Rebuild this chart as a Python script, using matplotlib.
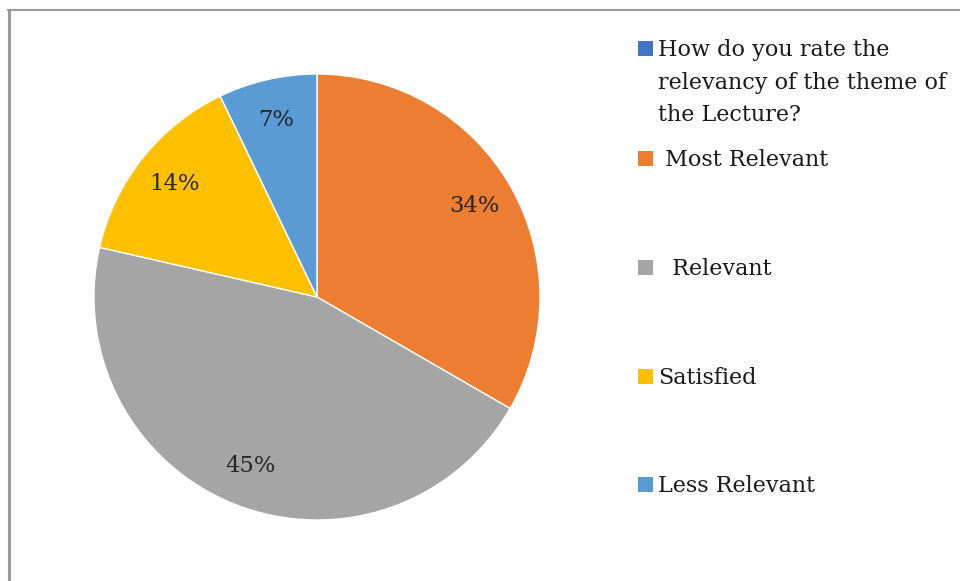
import matplotlib
matplotlib.use("Agg")
import matplotlib.pyplot as plt
from matplotlib.patches import Rectangle
from matplotlib.lines import Line2D

categories = ["How do you rate the\nrelevancy of the theme of\nthe Lecture?",
              " Most Relevant", "  Relevant", "Satisfied", "Less Relevant"]
# slice sizes (respondent counts)
values = [0, 14, 19, 6, 3]
# percentage labels as printed on the chart
pct_labels = ["", "34%", "45%", "14%", "7%"]
colors = ["#4472C4", "#ED7D31", "#A5A5A5", "#FFC000", "#5B9BD5"]

plt.rcParams['font.family'] = ['DejaVu Serif']

W, H = 960, 581
fig = plt.figure(figsize=(W / 100, H / 100), dpi=100)

# pie axes: centre (317,297), radius ~223
cx, cy, r = 317, 297, 223
ax = fig.add_axes([(cx - r) / W, 1 - (cy + r) / H, 2 * r / W, 2 * r / H])

_lab_iter = iter(pct_labels)
def fmt(p):
    return next(_lab_iter)

wedges, texts, autotexts = ax.pie(values, colors=colors, startangle=90, counterclock=False,
                                  autopct=fmt, pctdistance=0.815,
                                  wedgeprops=dict(edgecolor="white", linewidth=1),
                                  textprops=dict(fontsize=16.3, color="#262626"))
ax.set_aspect('equal')
ax.set_xlim(-1, 1)
ax.set_ylim(-1, 1)

# legend (manual); baselines in pixels of first line
baselines = [56, 166, 275, 384, 492]
line_step = 32.5
for lab, col, b in zip(categories, colors, baselines):
    fig.patches.append(Rectangle((638 / W, 1 - b / H), 15 / W, 15 / H,
                                 transform=fig.transFigure, facecolor=col, edgecolor='none'))
    for i, line in enumerate(lab.split("\n")):
        fig.text(658 / W, 1 - (b + i * line_step) / H, line, fontsize=16,
                 color="#1a1a1a", va='baseline', ha='left')

# frame lines (top and left)
fig.add_artist(Line2D([9 / W, 9 / W], [0, 1 - 10 / H], transform=fig.transFigure,
                      color="#9a9a9a", linewidth=2.2))
fig.add_artist(Line2D([8 / W, 1], [1 - 10 / H, 1 - 10 / H], transform=fig.transFigure,
                      color="#9a9a9a", linewidth=1.5))

fig.savefig("out.png", dpi=100, facecolor="white")
